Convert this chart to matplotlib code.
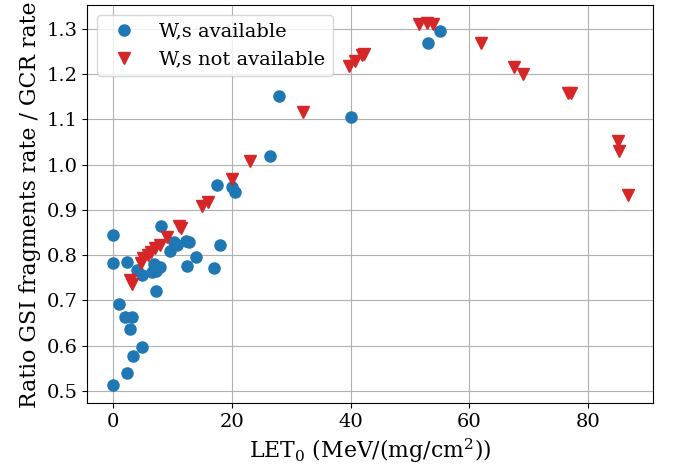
import numpy as np
import matplotlib
matplotlib.use("Agg")
import matplotlib.pyplot as plt

plt.rcParams['font.family'] = 'DejaVu Serif'
plt.rcParams['mathtext.fontset'] = 'dejavuserif'
plt.rcParams['font.size'] = 14

# W,s available
let_avail = [0.0, 0.0, 2.4, 4.0, 4.8, 6.8, 7.9, 7.2, 6.6, 7.2, 8.0, 9.6,
             10.2, 12.2, 12.7, 10.8, 12.5, 14.0, 16.9, 18.0, 17.5, 20.0,
             20.6, 26.5, 28.0, 40.0, 53.0, 55.0, 0.9, 2.0, 3.2, 2.9, 4.8,
             3.4, 2.4, 0.0]
ratio_avail = [0.845, 0.782, 0.785, 0.768, 0.757, 0.780, 0.773, 0.765,
               0.762, 0.722, 0.865, 0.810, 0.830, 0.832, 0.830, 0.822,
               0.775, 0.795, 0.772, 0.823, 0.955, 0.950, 0.940, 1.019,
               1.152, 1.105, 1.268, 1.295, 0.693, 0.663, 0.663, 0.636,
               0.598, 0.577, 0.540, 0.513]

# W,s not available
let_na = [2.8, 3.2, 4.6, 5.1, 5.8, 6.3, 7.1, 7.8, 9.1, 11.1, 11.4, 15.0,
          16.0, 20.0, 23.0, 32.0, 39.7, 40.8, 42.0, 42.3, 51.6, 52.9, 53.8,
          61.9, 67.6, 69.0, 76.6, 77.2, 85.0, 85.3, 86.7]
ratio_na = [0.745, 0.737, 0.783, 0.793, 0.800, 0.808, 0.815, 0.823, 0.840,
            0.865, 0.860, 0.909, 0.918, 0.968, 1.008, 1.117, 1.218, 1.229,
            1.241, 1.245, 1.310, 1.312, 1.310, 1.268, 1.216, 1.201, 1.159,
            1.159, 1.052, 1.030, 0.932]

fig = plt.figure(figsize=(6.73, 4.70), dpi=100)
ax = fig.add_subplot(1, 1, 1)
fig.subplots_adjust(left=0.130, right=0.971, top=0.989, bottom=0.142)

ax.plot(let_avail, ratio_avail, 'o', color='tab:blue', ms=8, label='W,s available')
ax.plot(let_na, ratio_na, 'v', color='tab:red', ms=8, label='W,s not available')

ax.grid(True, color='#b0b0b0', linewidth=0.8)
ax.set_axisbelow(True)
ax.set_xlabel(r"LET$_0$ (MeV/(mg/cm$^2$))", fontsize=15.8)
ax.set_ylabel("Ratio GSI fragments rate / GCR rate", fontsize=15.8)
ax.legend(loc='upper left')

fig.savefig("out.png")
